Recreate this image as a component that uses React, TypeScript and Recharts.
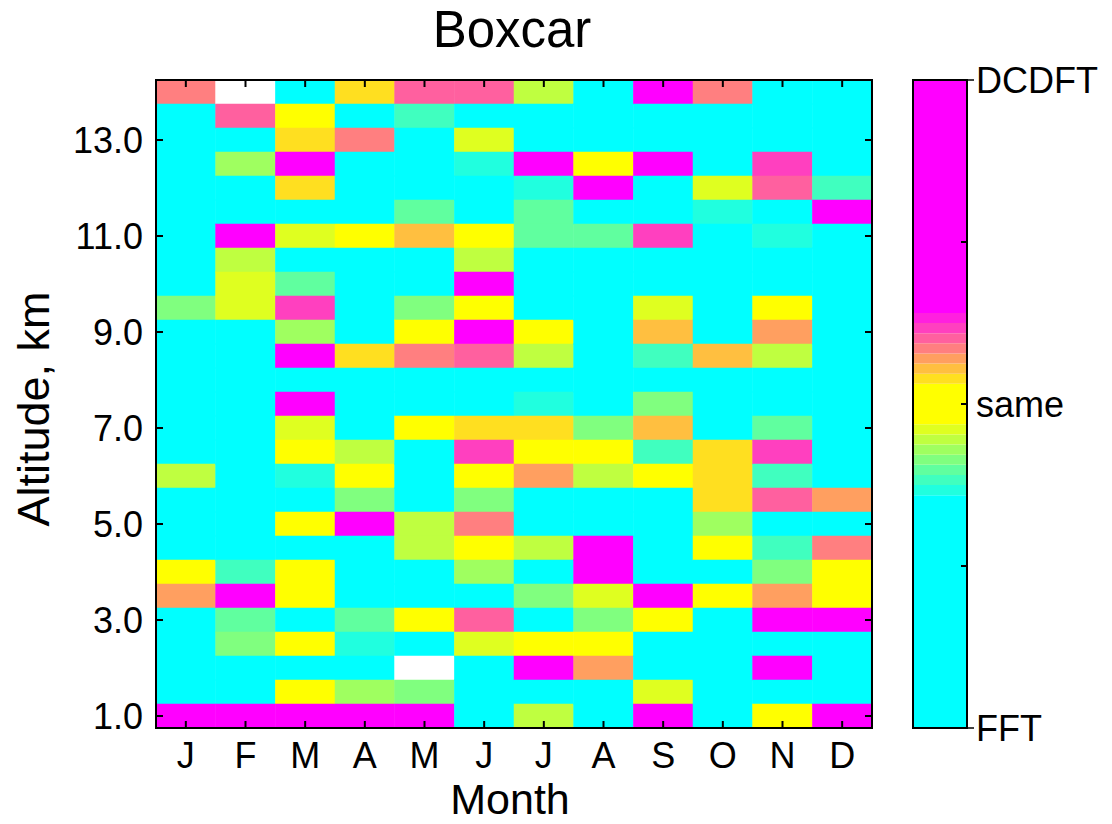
import { ScatterChart, Scatter, XAxis, YAxis, BarChart, Bar } from 'recharts'

// colour levels: 0 = FFT (cyan), 8 = same (yellow), 16 = DCDFT (magenta), null = no data (white)
const MONTH_LABELS = ['J', 'F', 'M', 'A', 'M', 'J', 'J', 'A', 'S', 'O', 'N', 'D']
const MONTH_TICKS = [1, 2, 3, 4, 5, 6, 7, 8, 9, 10, 11, 12]
const ALT_TICKS = [1, 3, 5, 7, 9, 11, 13]

// altitudes, top row first
const ALTITUDES = [
  14.0, 13.5, 13.0, 12.5, 12.0, 11.5, 11.0, 10.5, 10.0, 9.5, 9.0, 8.5, 8.0, 7.5,
  7.0, 6.5, 6.0, 5.5, 5.0, 4.5, 4.0, 3.5, 3.0, 2.5, 2.0, 1.5, 1.0,
]

const JAN = [12, 0, 0, 0, 0, 0, 0, 0, 0, 4, 0, 0, 0, 0, 0, 0, 6, 0, 0, 0, 8, 11, 0, 0, 0, 0, 16]
const FEB = [null, 13, 0, 5, 0, 0, 16, 6, 7, 7, 0, 0, 0, 0, 0, 0, 0, 0, 0, 0, 2, 16, 3, 4, 0, 0, 16]
const MAR = [0, 8, 9, 16, 9, 0, 7, 0, 3, 14, 5, 16, 0, 16, 7, 8, 1, 0, 8, 0, 8, 8, 0, 8, 0, 8, 16]
const APR = [9, 0, 12, 0, 0, 0, 8, 0, 0, 0, 0, 9, 0, 0, 0, 6, 8, 4, 16, 0, 0, 0, 3, 1, 0, 5, 16]
const MAY = [13, 2, 0, 0, 0, 3, 10, 0, 0, 4, 8, 12, 0, 0, 8, 0, 0, 0, 6, 6, 0, 0, 8, 0, null, 4, 16]
const JUN = [13, 0, 7, 1, 0, 0, 8, 6, 16, 8, 16, 13, 0, 0, 9, 14, 8, 4, 12, 8, 5, 0, 13, 7, 0, 0, 0]
const JUL = [6, 0, 0, 16, 1, 3, 3, 0, 0, 0, 8, 6, 0, 1, 9, 8, 11, 0, 0, 6, 0, 4, 0, 8, 16, 0, 6]
const AUG = [0, 0, 0, 8, 16, 0, 3, 0, 0, 0, 0, 0, 0, 0, 4, 8, 6, 0, 0, 16, 16, 7, 4, 8, 11, 0, 0]
const SEP = [16, 0, 0, 16, 0, 0, 14, 0, 0, 7, 10, 2, 0, 4, 10, 2, 8, 0, 0, 0, 0, 16, 8, 0, 0, 7, 16]
const OCT = [12, 0, 0, 0, 7, 1, 0, 0, 0, 0, 0, 10, 0, 0, 0, 9, 9, 9, 5, 8, 0, 8, 0, 0, 0, 0, 0]
const NOV = [0, 0, 0, 14, 13, 0, 1, 0, 0, 8, 11, 6, 0, 0, 3, 14, 2, 13, 0, 2, 4, 11, 16, 0, 16, 0, 8]
const DEC = [0, 0, 0, 0, 2, 16, 0, 0, 0, 0, 0, 0, 0, 0, 0, 0, 0, 11, 0, 12, 8, 8, 16, 0, 0, 0, 16]

const MONTHS = [JAN, FEB, MAR, APR, MAY, JUN, JUL, AUG, SEP, OCT, NOV, DEC]

// colorbar: [level, number of bands], bottom to top (64 bands in all)
const COLORBAR_STEPS = [
  [0, 23], [1, 1], [2, 1], [3, 1], [4, 1], [5, 1], [6, 1], [7, 1], [8, 4],
  [9, 1], [10, 1], [11, 1], [12, 1], [13, 1], [14, 1], [15, 1], [16, 23],
]
const COLORBAR_TICKS = [0, 16, 32, 48, 64]
const COLORBAR_LABELS: Record<number, string> = { 0: 'FFT', 32: 'same', 64: 'DCDFT' }

const FONT = '"Liberation Sans", Arial, sans-serif'
const PLOT = { left: 156, right: 872, top: 80, bottom: 728 }
const X_DOMAIN: [number, number] = [0.5, 12.5]
const Y_DOMAIN: [number, number] = [0.75, 14.25]
const CELL_W = ((PLOT.right - PLOT.left) / (X_DOMAIN[1] - X_DOMAIN[0])) * 1
const CELL_H = ((PLOT.bottom - PLOT.top) / (Y_DOMAIN[1] - Y_DOMAIN[0])) * 0.5
const CB_LEFT = 913
const CB_WIDTH = 54

function levelColor(k: number | null) {
  if (k == null) return '#FFFFFF'
  if (k <= 8) {
    const r = Math.round((255 * k) / 8)
    return `rgb(${r},255,${255 - r})`
  }
  const t = Math.round((255 * (k - 8)) / 8)
  return `rgb(255,${255 - t},${t})`
}

const cells = MONTHS.flatMap((col, i) =>
  col.map((level, r) => ({ month: MONTH_TICKS[i], alt: ALTITUDES[r], level })),
)

// one stacked segment per colour step, its height = number of bands
const colorbarRow: Record<string, number | string> = { name: 'cb' }
COLORBAR_STEPS.forEach(([, n], i) => {
  colorbarRow[`s${i}`] = n
})

const CellShape = (props: any) => {
  const { cx, cy, payload } = props
  const fill = levelColor(payload.level)
  return (
    <rect
      x={cx - CELL_W / 2}
      y={cy - CELL_H / 2}
      width={CELL_W}
      height={CELL_H}
      fill={fill}
      stroke={fill}
      strokeWidth={0.5}
    />
  )
}

const MonthTick = ({ x, y, payload }: any) => (
  <g>
    <line x1={x} y1={y} x2={x} y2={y - 7} stroke="#000" strokeWidth={2} />
    <line x1={x} y1={PLOT.top} x2={x} y2={PLOT.top + 7} stroke="#000" strokeWidth={2} />
    <text x={x} y={y + 40} textAnchor="middle" fontSize={36} fontFamily={FONT} fill="#000">
      {MONTH_LABELS[payload.value - 1]}
    </text>
  </g>
)

const AltTick = ({ x, y, payload }: any) => (
  <g>
    <line x1={x} y1={y} x2={x + 7} y2={y} stroke="#000" strokeWidth={2} />
    <line x1={PLOT.right} y1={y} x2={PLOT.right - 7} y2={y} stroke="#000" strokeWidth={2} />
    <text x={x - 13} y={y} dy={13} textAnchor="end" fontSize={36} fontFamily={FONT} fill="#000">
      {Number(payload.value).toFixed(1)}
    </text>
  </g>
)

const ColorbarTick = ({ x, y, payload }: any) => {
  const label = COLORBAR_LABELS[payload.value]
  const edge = payload.value === 0 || payload.value === 64
  return (
    <g>
      <line x1={x} y1={y} x2={x - 6} y2={y} stroke="#000" strokeWidth={2} />
      <line x1={CB_LEFT} y1={y} x2={CB_LEFT + 6} y2={y} stroke="#000" strokeWidth={2} />
      {edge && <line x1={x} y1={y} x2={x + 7} y2={y} stroke="#000" strokeWidth={1.5} />}
      {label && (
        <text x={x + 9} y={y} dy={13} textAnchor="start" fontSize={36} fontFamily={FONT} fill="#000">
          {label}
        </text>
      )}
    </g>
  )
}

export default function App() {
  return (
    <div style={{ position: 'absolute', left: 0, top: 0, width: 1112, height: 824, background: '#fff', fontFamily: FONT }}>
      <div style={{ position: 'absolute', left: 0, top: 0 }}>
        <ScatterChart width={900} height={824} margin={{ top: 80, right: 28, bottom: 36, left: 76 }}>
          <Scatter data={cells} shape={CellShape} isAnimationActive={false} />
          <XAxis
            dataKey="month"
            type="number"
            domain={X_DOMAIN}
            allowDataOverflow
            ticks={MONTH_TICKS}
            interval={0}
            height={60}
            tickSize={0}
            tickMargin={0}
            axisLine={false}
            tickLine={false}
            tick={<MonthTick />}
            zIndex={700}
          />
          <YAxis
            dataKey="alt"
            type="number"
            domain={Y_DOMAIN}
            allowDataOverflow
            ticks={ALT_TICKS}
            interval={0}
            width={80}
            tickSize={0}
            tickMargin={0}
            axisLine={false}
            tickLine={false}
            tick={<AltTick />}
            zIndex={700}
          />
        </ScatterChart>
      </div>

      <div style={{ position: 'absolute', left: 900, top: 0 }}>
        <BarChart
          width={212}
          height={824}
          data={[colorbarRow]}
          margin={{ top: 80, right: 0, bottom: 96, left: CB_LEFT - 900 }}
          barCategoryGap={0}
        >
          <XAxis dataKey="name" hide />
          <YAxis
            orientation="right"
            type="number"
            domain={[0, 64]}
            ticks={COLORBAR_TICKS}
            interval={0}
            width={212 - (CB_LEFT - 900) - CB_WIDTH}
            tickSize={0}
            tickMargin={0}
            axisLine={false}
            tickLine={false}
            tick={<ColorbarTick />}
          />
          {COLORBAR_STEPS.map(([lv], i) => (
            <Bar
              key={i}
              dataKey={`s${i}`}
              stackId="cb"
              fill={levelColor(lv)}
              isAnimationActive={false}
            />
          ))}
        </BarChart>
      </div>

      {/* title, axis labels and frames */}
      <svg width={1112} height={824} style={{ position: 'absolute', left: 0, top: 0, pointerEvents: 'none' }}>
        <text x={512} y={47} textAnchor="middle" fontSize={51} fontFamily={FONT} fill="#000">
          Boxcar
        </text>
        <text x={510} y={814} textAnchor="middle" fontSize={43} fontFamily={FONT} fill="#000">
          Month
        </text>
        <text transform="translate(49,409) rotate(-90)" textAnchor="middle" fontSize={45} fontFamily={FONT} fill="#000">
          Altitude, km
        </text>
        <rect x={PLOT.left} y={PLOT.top} width={PLOT.right - PLOT.left} height={PLOT.bottom - PLOT.top} fill="none" stroke="#000" strokeWidth={2} />
        <rect x={CB_LEFT} y={PLOT.top} width={CB_WIDTH} height={PLOT.bottom - PLOT.top} fill="none" stroke="#000" strokeWidth={2} />
      </svg>
    </div>
  )
}
